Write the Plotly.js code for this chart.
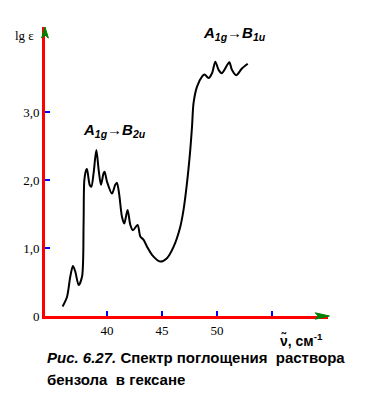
<!DOCTYPE html>
<html><head><meta charset="utf-8">
<script src="https://cdn.plot.ly/plotly-3.0.1.min.js"></script>
<style>html,body{margin:0;padding:0;background:#fff}#c{width:379px;height:398px}</style>
</head><body><div id="c"></div>
<script>
// wavenumber, 10^3 cm^-1
const wavenumber = [35.96,36.36,36.66,36.9,37.12,37.42,37.73,37.87,37.94,38.12,38.18,38.42,38.57,38.78,39.03,39.24,39.45,39.69,39.78,40.0,40.45,40.75,40.9,41.1,41.36,41.57,41.87,42.12,42.36,42.78,43.03,43.33,43.64,44.09,44.85,45.45,46.06,46.66,46.96,47.27,47.57,47.73,47.87,48.18,48.64,48.87,49.24,49.55,49.85,50.15,50.45,51.12,51.36,51.75,52.27,52.8];
// lg epsilon
const lgEps = [0.14,0.28,0.58,0.735,0.65,0.456,0.58,1.36,2.0,2.15,2.16,1.93,1.9,2.1,2.44,2.15,1.93,2.1,2.12,1.975,1.8,1.93,1.96,1.8,1.46,1.36,1.56,1.34,1.26,1.34,1.17,1.12,1.02,0.9,0.8,0.85,1.02,1.31,1.56,1.95,2.44,2.78,3.13,3.37,3.52,3.55,3.5,3.57,3.74,3.62,3.57,3.73,3.62,3.54,3.64,3.71];
const yTickVals = [0,1,2,3];
const yTickText = ['0','1,0','2,0','3,0'];
const xTickVals = [40,45,50,55];
const xTickText = ['40','45','50',''];

const serif = 'Times New Roman';
const sans = 'Arial';

const trace = {x: wavenumber, y: lgEps, mode:'lines', line:{color:'black', width:2, shape:'spline', smoothing:0.8}, hoverinfo:'skip'};

const layout = {
  width:379, height:398,
  margin:{l:45, r:51, t:27, b:82},
  showlegend:false,
  xaxis:{range:[34.36,60.1], showgrid:false, zeroline:false, showline:true, linecolor:'red', linewidth:3,
    ticks:'inside', ticklen:5, tickwidth:2, tickcolor:'blue', tickvals:xTickVals, ticktext:xTickText,
    tickfont:{family:serif, size:13, color:'black'}},
  yaxis:{range:[0,4.25], showgrid:false, zeroline:false, showline:true, linecolor:'red', linewidth:3,
    ticks:'inside', ticklen:5, tickwidth:2, tickcolor:'blue', tickvals:yTickVals, ticktext:yTickText,
    tickfont:{family:serif, size:13, color:'black'}},
  shapes:[
    {type:'path', xref:'paper', yref:'paper', layer:'above', path:'M -0.012 0.962 L 0 1.0 L 0.012 0.962 L 0 0.972 Z', fillcolor:'green', line:{color:'green', width:1}},
    {type:'path', xref:'paper', yref:'paper', layer:'above', path:'M 0.955 0.011 L 1.005 0 L 0.955 -0.011 L 0.965 0 Z', fillcolor:'green', line:{color:'green', width:1}}
  ],
  annotations:[
    {xref:'paper', yref:'paper', x:-0.073, y:0.972, xanchor:'center', yanchor:'middle', showarrow:false, text:'lg ε', font:{family:serif, size:13, color:'black'}},
    {x:40.7, y:2.735, xanchor:'center', yanchor:'middle', showarrow:false, text:'<b><i>A<sub>1g</sub>→B<sub>2u</sub></i></b>', font:{family:sans, size:15, color:'black'}},
    {x:51.6, y:4.16, xanchor:'center', yanchor:'middle', showarrow:false, text:'<b><i>A<sub>1g</sub>→B<sub>1u</sub></i></b>', font:{family:sans, size:15, color:'black'}},
    {xref:'paper', yref:'paper', x:0.905, y:-0.084, xanchor:'center', yanchor:'middle', showarrow:false, text:'<b>ν̃, см<sup>-1</sup></b>', font:{family:sans, size:14, color:'black'}},
    {xref:'paper', yref:'paper', x:0.0, y:-0.145, xanchor:'left', yanchor:'middle', showarrow:false, text:'<b><i>Рис. 6.27.</i> Спектр поглощения  раствора</b>', font:{family:sans, size:15, color:'black'}},
    {xref:'paper', yref:'paper', x:0.0, y:-0.218, xanchor:'left', yanchor:'middle', showarrow:false, text:'<b>бензола  в гексане</b>', font:{family:sans, size:15, color:'black'}}
  ]
};
Plotly.newPlot('c', [trace], layout, {displayModeBar:false, staticPlot:true});
</script></body></html>
